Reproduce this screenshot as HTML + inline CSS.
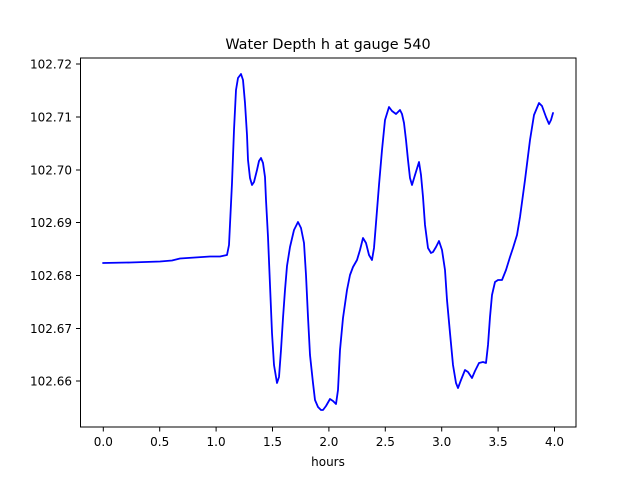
<!DOCTYPE html>
<html><head><style>body{margin:0;background:#fff}svg{display:block}</style></head><body>
<svg width="640" height="480" xmlns="http://www.w3.org/2000/svg" font-family="DejaVu Sans, sans-serif" font-size="12">
<rect width="640" height="480" fill="#fff"/>
<text x="328" y="49" text-anchor="middle" font-size="14.4">Water Depth h at gauge 540</text>
<polyline fill="none" stroke="#0000ff" stroke-width="1.8" stroke-linejoin="round" stroke-linecap="round" points="
103,263 130,262.5 160,261.5 172,260.5 180,258.5 195,257.5 210,256.5 220,256.5 227,255 229,245 232,183 234,130 236,90 238,78 241,74 243,80 245,103 247,135 248,160 250,178 252,185 254,182 257,170 259,161 261,158 263,163 265,177 266,200 268,237 270,285 272,333 274,365 277,383 279,377 281,350 283,318 285,290 287,266 290,247 294,230 298,222 301,228 304,243 306,275 308,317 310,355 313,383 315,400 318,407 321,410 323,410 326,406 330,399 333,401 336,404 338,390 340,350 343,318 347,290 350,275 353,267 357,260 360,250 363,238 366,243 369,255 372,260 374,248 376,223 379,185 382,150 385,120 389,107 392,111 396,114 398,112 400,110 402,114 404,123 406,140 408,160 410,178 412,185 415,175 419,162 421,175 423,197 425,225 428,248 431,253 433,252 436,247 439,241 442,250 445,270 447,300 450,333 453,365 456,383 458,388 461,380 465,370 468,372 472,378 475,371 479,363 483,362 486,363 488,345 490,317 492,295 495,282 498,280 502,280 506,270 510,257 513,248 517,235 520,217 525,180 530,140 534,115 539,103 542,106 546,117 549,124 551,120 553,113"/>
<rect x="80.5" y="58" width="495.5" height="369" fill="none" stroke="#000" stroke-width="1"/>
<g stroke="#000" stroke-width="1">
<line x1="76" x2="80.5" y1="64" y2="64"/><line x1="76" x2="80.5" y1="117" y2="117"/><line x1="76" x2="80.5" y1="170" y2="170"/><line x1="76" x2="80.5" y1="222.5" y2="222.5"/><line x1="76" x2="80.5" y1="275.5" y2="275.5"/><line x1="76" x2="80.5" y1="328.5" y2="328.5"/><line x1="76" x2="80.5" y1="381" y2="381"/>
<line x1="103.3" x2="103.3" y1="427" y2="431.5"/><line x1="159.7" x2="159.7" y1="427" y2="431.5"/><line x1="216.1" x2="216.1" y1="427" y2="431.5"/><line x1="272.5" x2="272.5" y1="427" y2="431.5"/><line x1="328.9" x2="328.9" y1="427" y2="431.5"/><line x1="385.3" x2="385.3" y1="427" y2="431.5"/><line x1="441.7" x2="441.7" y1="427" y2="431.5"/><line x1="498.1" x2="498.1" y1="427" y2="431.5"/><line x1="554.5" x2="554.5" y1="427" y2="431.5"/>
</g>
<g text-anchor="end">
<text x="72" y="68.5">102.72</text><text x="72" y="121.5">102.71</text><text x="72" y="174.5">102.70</text><text x="72" y="227">102.69</text><text x="72" y="280">102.68</text><text x="72" y="333">102.67</text><text x="72" y="385.5">102.66</text>
</g>
<g text-anchor="middle">
<text x="103.3" y="446">0.0</text><text x="159.7" y="446">0.5</text><text x="216.1" y="446">1.0</text><text x="272.5" y="446">1.5</text><text x="328.9" y="446">2.0</text><text x="385.3" y="446">2.5</text><text x="441.7" y="446">3.0</text><text x="498.1" y="446">3.5</text><text x="554.5" y="446">4.0</text>
<text x="328" y="466">hours</text>
</g>
</svg>
</body></html>
